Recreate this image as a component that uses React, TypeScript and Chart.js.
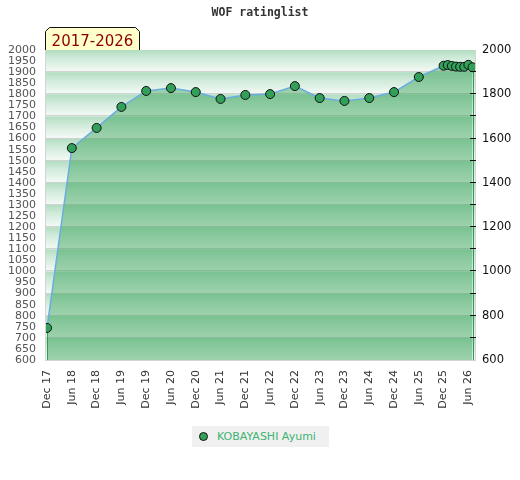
import React, { useEffect, useRef } from "react";
import { Chart, registerables } from "chart.js";

Chart.register(...registerables);

const TITLE = "WOF ratinglist";
const PERIOD = "2017-2026";
const PLAYER = "KOBAYASHI Ayumi";

// months counted from Dec 2017
const MONTHS = [0, 6, 12, 18, 24, 30, 36, 42, 48, 54, 60, 66, 72, 78, 84, 90, 96, 97, 98, 99, 100, 101, 102, 103];
const RATINGS = [745, 1557, 1648, 1743, 1815, 1828, 1810, 1779, 1797, 1801, 1837, 1783, 1770, 1783, 1810, 1878, 1929, 1932, 1928, 1925, 1924, 1924, 1933, 1922];

const TICK_MONTHS = [0, 6, 12, 18, 24, 30, 36, 42, 48, 54, 60, 66, 72, 78, 84, 90, 96, 102];
const TICK_LABELS = ["Dec 17", "Jun 18", "Dec 18", "Jun 19", "Dec 19", "Jun 20", "Dec 20", "Jun 21", "Dec 21", "Jun 22", "Dec 22", "Jun 23", "Dec 23", "Jun 24", "Dec 24", "Jun 25", "Dec 25", "Jun 26"];

const Y_MIN = 600;
const Y_MAX = 2000;
const LEFT_STEP = 50;
const RIGHT_STEP = 200;
const BAND_STEP = 100;

const X_MIN = -0.25;
const X_MAX = 103.6;

const decorPlugin = {
  id: "decor",
  beforeDatasetsDraw(chart: any) {
    const { ctx, chartArea: a, scales } = chart;
    const y = scales.y;
    const x = scales.x;
    ctx.save();
    ctx.fillStyle = "#ffffff";
    ctx.fillRect(a.left, a.top, a.right - a.left, a.bottom - a.top);
    for (let v = Y_MIN; v < Y_MAX; v += BAND_STEP) {
      const top = y.getPixelForValue(v + BAND_STEP);
      const bot = y.getPixelForValue(v);
      const g = ctx.createLinearGradient(0, top, 0, bot);
      g.addColorStop(0, "rgba(60,170,100,0.40)");
      g.addColorStop(0.35, "rgba(60,170,100,0.25)");
      g.addColorStop(1, "rgba(60,170,100,0.05)");
      ctx.fillStyle = g;
      ctx.fillRect(a.left, top, a.right - a.left, bot - top);
      if (v > Y_MIN) {
        ctx.fillStyle = "rgba(205,205,205,0.9)";
        ctx.fillRect(a.left, Math.round(bot) - 1, a.right - a.left, 1);
      }
    }
    // vertical edges of the filled area
    ctx.strokeStyle = "#2f9a55";
    ctx.lineWidth = 1;
    const first = 0;
    const last = MONTHS.length - 1;
    [first, last].forEach((i) => {
      const px = Math.round(x.getPixelForValue(MONTHS[i])) + 0.5;
      ctx.beginPath();
      ctx.moveTo(px, y.getPixelForValue(RATINGS[i]));
      ctx.lineTo(px, a.bottom);
      ctx.stroke();
    });
    ctx.restore();
  },
  afterDraw(chart: any) {
    const { ctx, chartArea: a, scales } = chart;
    const y = scales.y;
    ctx.save();
    // plot borders
    ctx.fillStyle = "#d4d4d4";
    ctx.fillRect(a.left - 1, a.top, 1, a.bottom - a.top + 1);
    ctx.fillRect(a.left - 1, a.bottom, a.right - a.left + 2, 1);
    ctx.fillRect(a.right, a.top, 1, a.bottom - a.top + 1);
    // right axis minor ticks
    ctx.fillStyle = "#111";
    for (let v = Y_MIN + BAND_STEP; v < Y_MAX; v += BAND_STEP) {
      const py = Math.round(y.getPixelForValue(v));
      ctx.fillRect(a.right - 5, py - 1, 6, 1);
    }
    // period tab
    const l = a.left - 1;
    const r = l + 95;
    const b = a.top;
    const t = b - 23;
    const path = () => {
      ctx.beginPath();
      ctx.moveTo(l + 0.5, b);
      ctx.lineTo(l + 0.5, t + 4.5);
      ctx.lineTo(l + 4.5, t + 0.5);
      ctx.lineTo(r - 4.5, t + 0.5);
      ctx.lineTo(r - 0.5, t + 4.5);
      ctx.lineTo(r - 0.5, b);
    };
    path();
    ctx.closePath();
    ctx.fillStyle = "#ffffcc";
    ctx.fill();
    ctx.strokeStyle = "#111";
    ctx.lineWidth = 1;
    path();
    ctx.stroke();
    ctx.fillStyle = "#8b0000";
    ctx.font = "15px 'DejaVu Sans'";
    ctx.textAlign = "center";
    ctx.textBaseline = "alphabetic";
    ctx.fillText(PERIOD, (l + r) / 2, b - 4);
    ctx.restore();
  },
};

const plain = (v: any) => String(v);

export default function App() {
  const ref = useRef<HTMLCanvasElement | null>(null);

  useEffect(() => {
    if (!ref.current) return;
    Chart.defaults.font.family = "'DejaVu Sans', sans-serif";
    const chart = new Chart(ref.current, {
      type: "line",
      data: {
        datasets: [
          {
            label: PLAYER,
            data: MONTHS.map((m, i) => ({ x: m, y: RATINGS[i] })),
            borderColor: "#6aaee0",
            borderWidth: 1.5,
            backgroundColor: "rgba(50,160,85,0.45)",
            fill: "start",
            tension: 0,
            pointRadius: 4.5,
            pointHoverRadius: 4.5,
            pointBackgroundColor: "#33a05a",
            pointBorderColor: "#111",
            pointBorderWidth: 1,
          },
        ],
      },
      options: {
        responsive: false,
        animation: false,
        devicePixelRatio: 1,
        layout: { padding: 0 },
        plugins: {
          legend: { display: false },
          tooltip: { enabled: false },
          title: {
            display: true,
            text: TITLE,
            color: "#333",
            font: { family: "'DejaVu Sans Mono', monospace", size: 11.5, weight: "bold" },
            padding: { top: 6, bottom: 30.2 },
          },
        },
        scales: {
          x: {
            type: "linear",
            min: X_MIN,
            max: X_MAX,
            grid: { display: false, drawTicks: false },
            border: { display: false },
            afterBuildTicks: (s: any) => {
              s.ticks = TICK_MONTHS.map((v) => ({ value: v }));
            },
            afterFit: (s: any) => {
              s.height = 120;
            },
            ticks: {
              autoSkip: false,
              minRotation: 90,
              maxRotation: 90,
              padding: 10,
              color: "#333",
              font: { size: 11 },
              callback: (v: any) => {
                const i = TICK_MONTHS.indexOf(Number(v));
                return i >= 0 ? TICK_LABELS[i] : "";
              },
            },
          },
          y: {
            position: "left",
            min: Y_MIN,
            max: Y_MAX,
            grid: { display: false, drawTicks: false },
            border: { display: false },
            afterFit: (s: any) => {
              s.width = 46;
            },
            ticks: {
              stepSize: LEFT_STEP,
              padding: 10,
              color: "#555",
              font: { size: 11 },
              autoSkip: false,
              callback: plain,
            },
          },
          y2: {
            position: "right",
            min: Y_MIN,
            max: Y_MAX,
            grid: { display: false, drawTicks: false },
            border: { display: false },
            afterFit: (s: any) => {
              s.width = 45;
            },
            ticks: {
              stepSize: RIGHT_STEP,
              padding: 7,
              color: "#111",
              font: { size: 11.5 },
              callback: plain,
            },
          },
        },
      },
      plugins: [decorPlugin],
    } as any);
    return () => chart.destroy();
  }, []);

  return (
    <div style={{ position: "absolute", left: 0, top: 0, width: 520, height: 480, background: "#fff" }}>
      <canvas ref={ref} width={520} height={480} style={{ display: "block" }} />
      <div
        style={{
          position: "absolute",
          left: 192,
          top: 426,
          width: 137,
          height: 21,
          background: "#f0f0f0",
          fontFamily: "'DejaVu Sans', sans-serif",
          fontSize: 11,
          color: "#3cb371",
          lineHeight: "21px",
        }}
      >
        <span
          style={{
            position: "absolute",
            left: 7,
            top: 6,
            width: 7,
            height: 7,
            borderRadius: "50%",
            background: "#33a05a",
            border: "1px solid #111",
          }}
        />
        <span style={{ position: "absolute", left: 25, top: 0, whiteSpace: "nowrap" }}>{PLAYER}</span>
      </div>
    </div>
  );
}
